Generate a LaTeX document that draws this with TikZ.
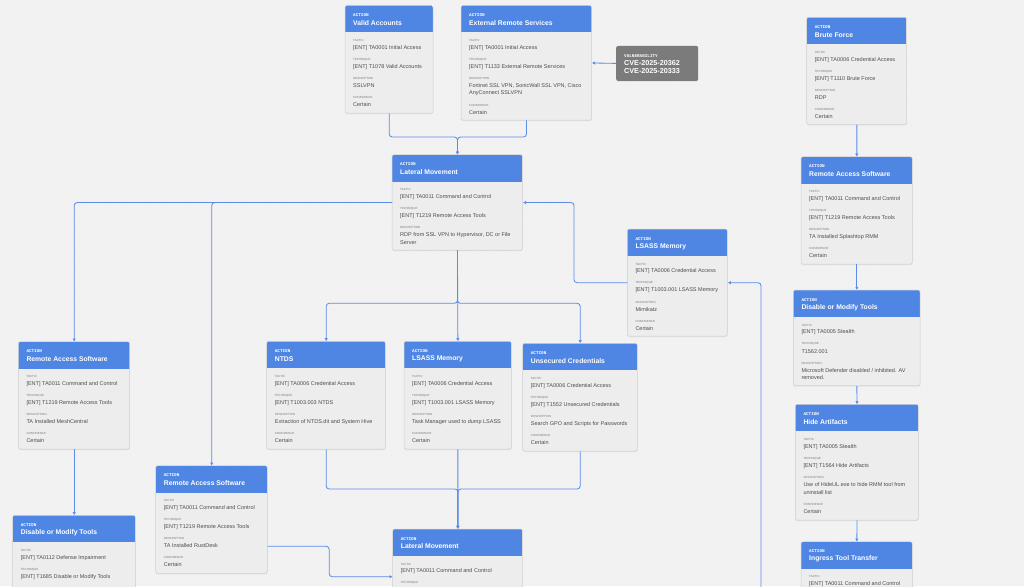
\documentclass[tikz,border=0pt]{standalone}
\usepackage{fontspec}
\setmainfont{Liberation Sans}
\newfontfamily\monof{Liberation Mono}
\usetikzlibrary{arrows.meta,shadows,patterns.meta}
\definecolor{bgc}{HTML}{F2F2F2}
\definecolor{dotc}{HTML}{E3E3E3}
\definecolor{bodyc}{HTML}{EDEDED}
\definecolor{edgec}{HTML}{D0D0D0}
\definecolor{hdrc}{HTML}{4F86E4}
\definecolor{vulc}{HTML}{7B7B7B}
\definecolor{lnkc}{HTML}{5B8CE8}
\definecolor{lblc}{HTML}{7A7A7A}
\definecolor{valc}{HTML}{4D4D4D}
\tikzdeclarepattern{name=bgdots, type=uncolored,
  bounding box={(0pt,0pt) and (5pt,5pt)}, tile size={(5pt,5pt)},
  code={\fill (2.5pt,2.5pt) circle (0.45pt);}}
\newcounter{cardsec}
\newcommand\card[6]{%
  \node[cardnode, minimum width={(#4-#2)*1pt}, minimum height={(#5-#3)*1pt}, anchor=north west] (#1) at (#2,#3) {};
  \begin{scope}
    \clip[rounded corners=2pt] (#2,#3) rectangle (#4,#5);
    \fill[hdrc] (#2,#3) rectangle (#4,#3+27);
  \end{scope}
  \draw[edgec, line width=0.5pt, rounded corners=2pt] (#2,#3) rectangle (#4,#5);
  \node[actlbl] (#1-a) at (#2+8,#3+9.8) {ACTION};
  \node[ttl] (#1-t) at (#2+8,#3+17.5) {#6};
  \pgfmathsetmacro\tmpcx{#2+8}\xdef\cardX{\tmpcx}%
  \pgfmathsetmacro\tmpcy{#3+35}\xdef\cardY{\tmpcy}%
  \xdef\cardN{#1}\setcounter{cardsec}{0}%
}
\newcommand\sect[2]{%
  \stepcounter{cardsec}%
  \node[lbl] (\cardN-l\arabic{cardsec}) at (\cardX,\cardY) {#1};
  \node[val] (\cardN-v\arabic{cardsec}) at (\cardX,\cardY+7.3) {#2};
  \pgfmathsetmacro\tmpcy{\cardY+19}\xdef\cardY{\tmpcy}%
}
\newcommand\sectt[3]{%
  \stepcounter{cardsec}%
  \node[lbl] (\cardN-l\arabic{cardsec}) at (\cardX,\cardY) {#1};
  \node[val] (\cardN-v\arabic{cardsec}) at (\cardX,\cardY+7.3) {#2};
  \node[val] (\cardN-w\arabic{cardsec}) at (\cardX,\cardY+15) {#3};
  \pgfmathsetmacro\tmpcy{\cardY+26.7}\xdef\cardY{\tmpcy}%
}
\newcommand\lblonly[1]{%
  \stepcounter{cardsec}%
  \node[lbl] (\cardN-l\arabic{cardsec}) at (\cardX,\cardY) {#1};
}
\begin{document}
\begin{tikzpicture}[x=1pt,y=-1pt,
  cardnode/.style={fill=bodyc, rounded corners=2pt, inner sep=0pt,
    drop shadow={shadow xshift=0pt, shadow yshift=-0.8pt, opacity=0.15}},
  actlbl/.style={anchor=west, inner sep=0pt, text=white, font=\monof\bfseries\fontsize{4.3}{4.5}\selectfont},
  ttl/.style={anchor=west, inner sep=0pt, text=white, font=\bfseries\fontsize{6.8}{8}\selectfont},
  lbl/.style={anchor=west, inner sep=0pt, text=lblc, font=\fontsize{2.95}{3.2}\selectfont},
  val/.style={anchor=west, inner sep=0pt, text=valc, font=\fontsize{5.5}{6.5}\selectfont},
  conn/.style={draw=lnkc, line width=0.85pt, rounded corners=3pt, -{Latex[length=3.2pt,width=3.4pt]}}
]
\useasboundingbox (0,0) rectangle (1024,586);
\fill[bgc] (0,0) rectangle (1024,586);
\fill[pattern=bgdots, pattern color=dotc] (0,0) rectangle (1024,586);

% ---- cards ----
\card{va}{345}{5.5}{433}{113}{Valid Accounts}
\sect{TACTIC}{[ENT] TA0001 Initial Access}
\sect{TECHNIQUE}{[ENT] T1078 Valid Accounts}
\sect{DESCRIPTION}{SSLVPN}
\sect{CONFIDENCE}{Certain}

\card{ers}{461}{5.5}{591.5}{120}{External Remote Services}
\sect{TACTIC}{[ENT] TA0001 Initial Access}
\sect{TECHNIQUE}{[ENT] T1133 External Remote Services}
\sectt{DESCRIPTION}{Fortinet SSL VPN, SonicWall SSL VPN, Cisco}{AnyConnect SSLVPN}
\sect{CONFIDENCE}{Certain}

\card{lm1}{392}{154.7}{522.5}{250}{Lateral Movement}
\sect{TACTIC}{[ENT] TA0011 Command and Control}
\sect{TECHNIQUE}{[ENT] T1219 Remote Access Tools}
\sectt{DESCRIPTION}{RDP from SSL VPN to Hypervisor, DC or File}{Server}

\card{lsR}{627.3}{229}{727.3}{336}{LSASS Memory}
\sect{TACTIC}{[ENT] TA0006 Credential Access}
\sect{TECHNIQUE}{[ENT] T1003.001 LSASS Memory}
\sect{DESCRIPTION}{Mimikatz}
\sect{CONFIDENCE}{Certain}

\card{rasL}{18.3}{341.7}{129.7}{449}{Remote Access Software}
\sect{TACTIC}{[ENT] TA0011 Command and Control}
\sect{TECHNIQUE}{[ENT] T1219 Remote Access Tools}
\sect{DESCRIPTION}{TA Installed MeshCentral}
\sect{CONFIDENCE}{Certain}

\card{ntds}{266.7}{341.3}{385.3}{449}{NTDS}
\sect{TACTIC}{[ENT] TA0006 Credential Access}
\sect{TECHNIQUE}{[ENT] T1003.003 NTDS}
\sect{DESCRIPTION}{Extraction of NTDS.dit and System Hive}
\sect{CONFIDENCE}{Certain}

\card{lsM}{404}{341.3}{511.3}{449}{LSASS Memory}
\sect{TACTIC}{[ENT] TA0006 Credential Access}
\sect{TECHNIQUE}{[ENT] T1003.001 LSASS Memory}
\sect{DESCRIPTION}{Task Manager used to dump LSASS}
\sect{CONFIDENCE}{Certain}

\card{uc}{522.7}{343.3}{637.3}{451}{Unsecured Credentials}
\sect{TACTIC}{[ENT] TA0006 Credential Access}
\sect{TECHNIQUE}{[ENT] T1552 Unsecured Credentials}
\sect{DESCRIPTION}{Search GPO and Scripts for Passwords}
\sect{CONFIDENCE}{Certain}

\card{rasM}{155.7}{465.7}{267.3}{573.3}{Remote Access Software}
\sect{TACTIC}{[ENT] TA0011 Command and Control}
\sect{TECHNIQUE}{[ENT] T1219 Remote Access Tools}
\sect{DESCRIPTION}{TA Installed RustDesk}
\sect{CONFIDENCE}{Certain}

\card{dmtL}{12.7}{515.3}{135.3}{620}{Disable or Modify Tools}
\sect{TACTIC}{[ENT] TA0112 Defense Impairment}
\sect{TECHNIQUE}{[ENT] T1685 Disable or Modify Tools}

\card{lm2}{392.7}{529}{522.7}{624}{Lateral Movement}
\sect{TACTIC}{[ENT] TA0011 Command and Control}
\lblonly{TECHNIQUE}

\card{bf}{806.7}{17.3}{906.7}{124.3}{Brute Force}
\sect{TACTIC}{[ENT] TA0006 Credential Access}
\sect{TECHNIQUE}{[ENT] T1110 Brute Force}
\sect{DESCRIPTION}{RDP}
\sect{CONFIDENCE}{Certain}

\card{rasR}{801}{156.7}{912.3}{264}{Remote Access Software}
\sect{TACTIC}{[ENT] TA0011 Command and Control}
\sect{TECHNIQUE}{[ENT] T1219 Remote Access Tools}
\sect{DESCRIPTION}{TA Installed Splashtop RMM}
\sect{CONFIDENCE}{Certain}

\card{dmtR}{793.3}{290}{920}{385.7}{Disable or Modify Tools}
\sect{TACTIC}{[ENT] TA0005 Stealth}
\sect{TECHNIQUE}{T1562.001}
\sectt{DESCRIPTION}{Microsoft Defender disabled / inhibited. AV}{removed.}

\card{ha}{795.3}{404.3}{918.3}{520}{Hide Artifacts}
\sect{TACTIC}{[ENT] TA0005 Stealth}
\sect{TECHNIQUE}{[ENT] T1564 Hide Artifacts}
\sectt{DESCRIPTION}{Use of HideUL.exe to hide RMM tool from}{uninstall list}
\sect{CONFIDENCE}{Certain}

\card{itt}{801}{541.7}{912.3}{640}{Ingress Tool Transfer}
\sect{TACTIC}{[ENT] TA0011 Command and Control}

% ---- vulnerability ----
\node[fill=vulc, rounded corners=2pt, inner sep=0pt, minimum width=82pt, minimum height=35pt,
  anchor=north west, drop shadow={shadow xshift=0pt, shadow yshift=-0.8pt, opacity=0.15}] (vuln) at (616,45.7) {};
\node[actlbl] (vuln-a) at (624,55.7) {VULNERABILITY};
\node[ttl, font=\bfseries\fontsize{7.2}{8}\selectfont] (vuln-c1) at (624,63.3) {CVE-2025-20362};
\node[ttl, font=\bfseries\fontsize{7.2}{8}\selectfont] (vuln-c2) at (624,71) {CVE-2025-20333};

% ---- helper coordinates ----
\coordinate (yA) at (0,137);
\coordinate (yB) at (0,303.3);
\coordinate (yC) at (0,489);
\coordinate (yD) at (0,546.3);
\coordinate (j1) at (lm1.north |- yA);
\coordinate (j2) at (lm1.south |- yB);
\coordinate (j3) at (lm2.north |- yC);
\coordinate (bot) at (761,600);

% ---- connectors ----
\draw[conn] (va.south) |- (j1) -- (lm1.north);
\draw[conn] (ers.south) |- (j1) -- (lm1.north);
\draw[conn] (vuln.west) -- (ers.east);
\draw[conn] (lm1.west) -| (rasL.north);
\draw[conn] (lm1.west) -| (rasM.north);
\draw[conn] (lm1.south) -- (lsM.north);
\draw[conn] (lm1.south) -- (j2) -| (ntds.north);
\draw[conn] (lm1.south) -- (j2) -| (uc.north);
\draw[conn] (lsR.west) -- ++(-53.3,0) |- (lm1.east);
\draw[conn] (bot) |- (lsR.east);
\draw[conn] (rasL.south) -- (dmtL.north);
\draw[conn] (rasM.east |- yD) -- ++(61.5,0) |- (lm2.west);
\draw[conn] (ntds.south) |- (j3) -- (lm2.north);
\draw[conn] (lsM.south) -- (lm2.north);
\draw[conn] (uc.south) |- (j3) -- (lm2.north);
\draw[conn] (bf.south) -- (rasR.north);
\draw[conn] (rasR.south) -- (dmtR.north);
\draw[conn] (dmtR.south) -- (ha.north);
\draw[conn] (ha.south) -- (itt.north);
\end{tikzpicture}
\end{document}
